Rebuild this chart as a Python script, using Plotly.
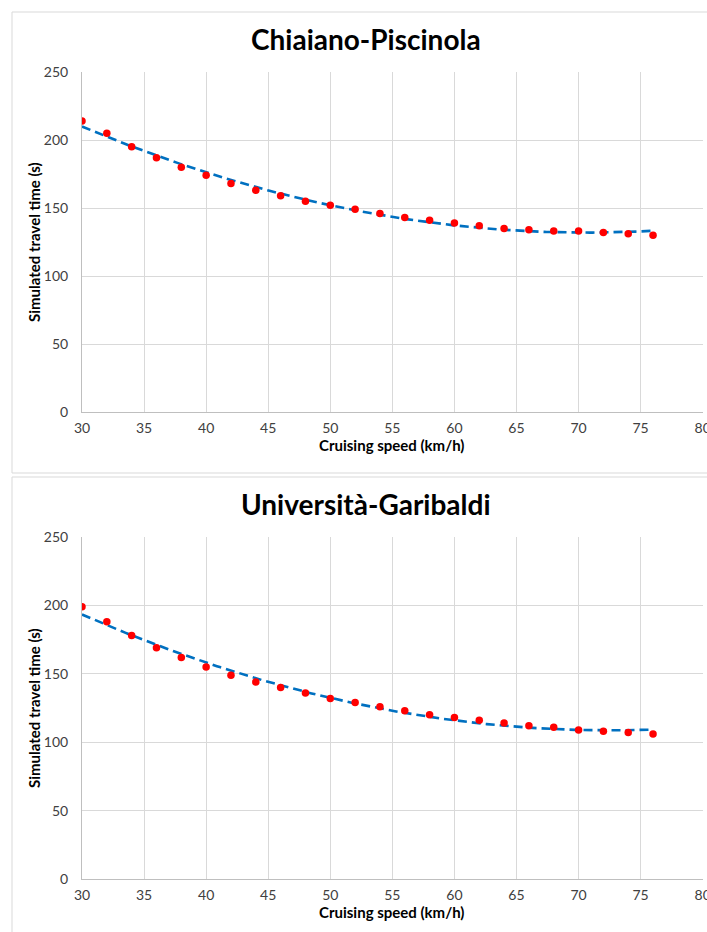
import numpy as np
import plotly.graph_objects as go
from plotly.subplots import make_subplots

# ---- data ----
speed = [30, 32, 34, 36, 38, 40, 42, 44, 46, 48, 50, 52, 54, 56, 58, 60, 62, 64, 66, 68, 70, 72, 74, 76]
time_chiaiano = [214, 205, 195, 187, 180, 174, 168, 163, 159, 155, 152, 149, 146, 143, 141, 139, 137, 135, 134, 133, 133, 132, 131, 130]
time_universita = [199, 188, 178, 169, 162, 155, 149, 144, 140, 136, 132, 129, 126, 123, 120, 118, 116, 114, 112, 111, 109, 108, 107, 106]
titles = ["Chiaiano-Piscinola", "Università-Garibaldi"]
x_ticks = [30, 35, 40, 45, 50, 55, 60, 65, 70, 75, 80]
y_ticks = [0, 50, 100, 150, 200, 250]
x_label = "Cruising speed (km/h)"
y_label = "Simulated travel time (s)"

W, H = 707, 932
FONT = "Lato"
series = [time_chiaiano, time_universita]

fig = make_subplots(rows=2, cols=1)

# plot-area pixel boxes (top, bottom)
boxes = [(72, 412), (537, 879)]
x0px, x1px = 82, 702.7
panels = [(12, 473), (477, 960)]

xs = np.array(speed, dtype=float)
xfit = np.linspace(min(speed), max(speed), 200)
for i, ys in enumerate(series):
    r = i + 1
    coef = np.polyfit(xs, np.array(ys, dtype=float), 2)
    fig.add_trace(go.Scatter(x=xfit, y=np.polyval(coef, xfit), mode="lines",
                             line=dict(color="#0070C0", width=2.6, dash="9px,5px"),
                             showlegend=False, hoverinfo="skip"), row=r, col=1)
    fig.add_trace(go.Scatter(x=speed, y=ys, mode="markers",
                             marker=dict(color="#FF0000", size=7.5, line=dict(width=0)),
                             showlegend=False), row=r, col=1)

for i, (top, bot) in enumerate(boxes):
    r = i + 1
    fig.update_xaxes(range=[30, 80], tickvals=x_ticks, showgrid=True, gridcolor="#D9D9D9",
                     gridwidth=1, showline=True, linecolor="#BFBFBF", linewidth=1,
                     zeroline=False, ticks="", ticklabelstandoff=3, automargin=False,
                     ticklabeloverflow="allow",
                     tickfont=dict(family=FONT, size=14, color="#404040"),
                     domain=[x0px / W, x1px / W], row=r, col=1)
    fig.update_yaxes(range=[0, 250], tickvals=y_ticks, showgrid=True, gridcolor="#D9D9D9",
                     gridwidth=1, showline=True, linecolor="#BFBFBF", linewidth=1,
                     zeroline=False, ticks="", ticklabelstandoff=10, automargin=False,
                     tickfont=dict(family=FONT, size=14, color="#404040"),
                     domain=[1 - bot / H, 1 - top / H], row=r, col=1)
    ptop, pbot = panels[i]
    fig.add_shape(type="rect", xref="paper", yref="paper",
                  x0=12 / W, x1=1.02, y0=1 - pbot / H, y1=1 - ptop / H,
                  line=dict(color="#D9D9D9", width=1), fillcolor="rgba(0,0,0,0)", layer="below")
    # titles
    fig.add_annotation(text="<b>" + titles[i] + "</b>", xref="paper", yref="paper",
                       x=366 / W, y=1 - (ptop + 27) / H, showarrow=False,
                       font=dict(family=FONT, size=28, color="#000000"),
                       xanchor="center", yanchor="middle")
    fig.add_annotation(text="<b>" + x_label + "</b>", xref="paper", yref="paper",
                       x=392 / W, y=1 - (bot + 33) / H, showarrow=False,
                       font=dict(family=FONT, size=15, color="#000000"),
                       xanchor="center", yanchor="middle")
    fig.add_annotation(text="<b>" + y_label + "</b>", xref="paper", yref="paper",
                       x=34 / W, y=1 - ((top + bot) / 2) / H, showarrow=False, textangle=-90,
                       font=dict(family=FONT, size=15, color="#000000"),
                       xanchor="center", yanchor="middle")

fig.update_layout(width=W, height=H, margin=dict(l=0, r=0, t=0, b=0, autoexpand=False),
                  paper_bgcolor="white", plot_bgcolor="white", showlegend=False)

fig.write_html("out.html")
